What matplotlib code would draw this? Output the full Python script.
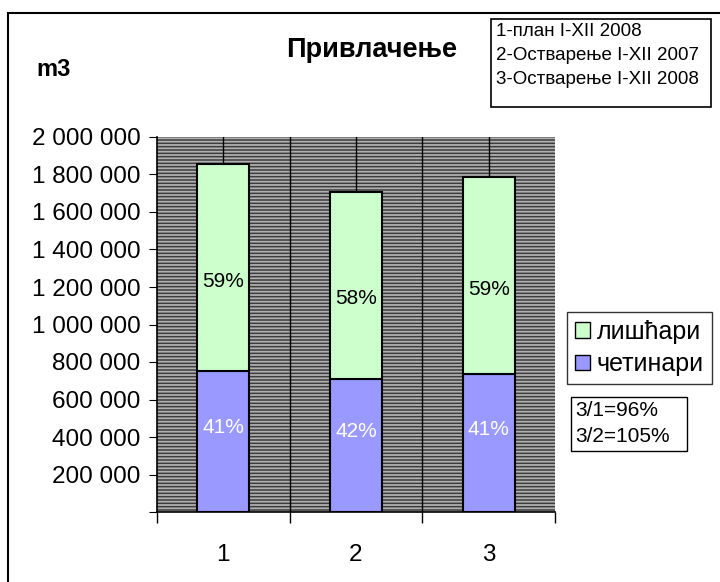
import matplotlib
matplotlib.use("Agg")
import matplotlib.pyplot as plt
from matplotlib.patches import Rectangle, Patch
from matplotlib.ticker import FuncFormatter

plt.rcParams["font.family"] = ["Liberation Sans", "DejaVu Sans"]
plt.rcParams["hatch.linewidth"] = 1.3

categories = ["1", "2", "3"]
cetinari = [752000, 712000, 735000]      # четинари (conifers)
liscari = [1104000, 993000, 1050000]     # лишћари (deciduous)
pct_cetinari = ["41%", "42%", "41%"]
pct_liscari = ["59%", "58%", "59%"]
notes = ["1-план I-XII 2008", "2-Остварење I-XII 2007", "3-Остварење I-XII 2008"]
ratios = ["3/1=96%", "3/2=105%"]

c_lis = "#CCFFCC"
c_cet = "#9999FF"

fig = plt.figure(figsize=(7.2, 5.82), dpi=100)
ax = fig.add_axes([157 / 720, 70 / 582, 398 / 720, 375 / 582])

# hatched grey plot area
ax.add_patch(Rectangle((0, 0), 1, 1, transform=ax.transAxes, facecolor="#3c3c3c",
                       hatch="-----", edgecolor="#b0b0b0", lw=0, zorder=0))
for xv in [1, 1.5, 2, 2.5, 3]:
    ax.axvline(xv, color="black", lw=1.0, zorder=1)

x = range(1, len(categories) + 1)
ax.bar(x, cetinari, width=0.39, color=c_cet, edgecolor="black", lw=1.5, zorder=2)
ax.bar(x, liscari, width=0.39, bottom=cetinari, color=c_lis, edgecolor="black", lw=1.5, zorder=2)

for i, xi in enumerate(x):
    ax.text(xi, cetinari[i] * 0.6, pct_cetinari[i], ha="center", va="center",
            fontsize=15, color="white", zorder=3)
    ax.text(xi, cetinari[i] + liscari[i] * 0.43, pct_liscari[i], ha="center", va="center",
            fontsize=15, color="black", zorder=3)

ax.set_xlim(0.5, 3.5)
ax.set_ylim(0, 2000000)
ax.set_yticks(range(0, 2000001, 200000))
ax.yaxis.set_major_formatter(FuncFormatter(
    lambda v, p: "" if v == 0 else f"{v:,.0f}".replace(",", " ")))
ax.set_xticks([0.5, 1.5, 2.5, 3.5])
ax.set_xticklabels([])
ax.tick_params(axis="y", length=6, labelsize=17.5, pad=6)
ax.tick_params(axis="x", length=8, width=1)
for xi, lab in zip(x, categories):
    ax.text(xi, -0.115, lab, transform=ax.get_xaxis_transform(), ha="center", va="center",
            fontsize=17.5)
for s in ["top", "right"]:
    ax.spines[s].set_visible(False)
ax.spines["left"].set_linewidth(1.2)
ax.spines["bottom"].set_linewidth(1.2)

fig.text(372 / 720, 1 - 50 / 582, "Привлачење", ha="center", va="center",
         fontsize=19.5, fontweight="bold")
fig.text(54 / 720, 1 - 70 / 582, "m3", ha="center", va="center",
         fontsize=17, fontweight="bold")

# notes box
fig.patches.append(Rectangle((491 / 720, 1 - 107 / 582), 220 / 720, 88 / 582,
                             transform=fig.transFigure, fill=False, edgecolor="black", lw=1.2))
for j, t in enumerate(notes):
    fig.text(496 / 720, 1 - (32 + 24 * j) / 582, t, ha="left", va="center", fontsize=13.5)

# legend
handles = [Patch(facecolor=c_lis, edgecolor="black", label="лишћари"),
           Patch(facecolor=c_cet, edgecolor="black", label="четинари")]
leg = fig.legend(handles=handles, loc="upper left", bbox_to_anchor=(567 / 720, 1 - 312 / 582),
                 fontsize=18, frameon=True, fancybox=False, edgecolor="black",
                 handlelength=0.6, handleheight=0.6, handletextpad=0.3,
                 borderpad=0.3, labelspacing=0.35, borderaxespad=0)
leg.get_frame().set_linewidth(1.0)

# ratio box
fig.patches.append(Rectangle((571 / 720, 1 - 451 / 582), 116 / 720, 54 / 582,
                             transform=fig.transFigure, fill=False, edgecolor="black", lw=1.0))
for j, t in enumerate(ratios):
    fig.text(575 / 720, 1 - (411 + 26 * j) / 582, t, ha="left", va="center", fontsize=15)

# outer border
fig.patches.append(Rectangle((8 / 720, -0.05), 1.1, 1 - 13 / 582 + 0.05,
                             transform=fig.transFigure, fill=False, edgecolor="black", lw=1.5))

fig.savefig("out.png", dpi=100)
